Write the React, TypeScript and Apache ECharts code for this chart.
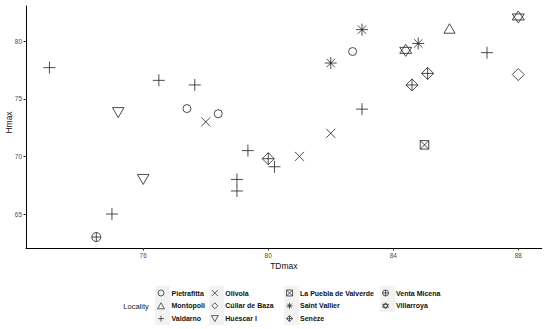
import React, { useEffect, useRef } from "react";
import * as echarts from "echarts";

const localities = [
  "Pietrafitta",
  "Montopoli",
  "Valdarno",
  "Olivola",
  "Cúllar de Baza",
  "Huéscar I",
  "La Puebla de Valverde",
  "Saint Vallier",
  "Senèze",
  "Venta Micena",
  "Villarroya",
];

const pietrafitta = [[77.4, 74.15], [78.4, 73.7], [82.7, 79.1]];
const montopoli = [[85.8, 81.1]];
const valdarno = [
  [73.0, 77.7], [76.5, 76.6], [77.65, 76.2], [75.0, 65.0], [79.0, 68.0],
  [79.0, 67.0], [79.35, 70.5], [80.2, 69.1], [83.0, 74.1], [87.0, 79.0],
];
const olivola = [[78.0, 73.0], [81.0, 70.0], [82.0, 72.0]];
const cullarDeBaza = [[88.0, 77.1]];
const huescarI = [[75.2, 73.8], [76.0, 68.0]];
const laPueblaDeValverde = [[85.0, 71.0]];
const saintVallier = [[83.0, 81.0], [82.0, 78.1], [84.8, 79.8]];
const seneze = [[80.0, 69.8], [85.1, 77.2], [84.6, 76.2]];
const ventaMicena = [[74.5, 63.0]];
const villarroya = [[84.4, 79.2], [88.0, 82.1]];

const xTicks = [76, 80, 84, 88];
const yTicks = [65, 70, 75, 80];

const seriesData = [
  pietrafitta, montopoli, valdarno, olivola, cullarDeBaza, huescarI,
  laPueblaDeValverde, saintVallier, seneze, ventaMicena, villarroya,
];

const symbols: any[] = [
  { symbol: "path://M0 5 A5 5 0 1 1 10 5 A5 5 0 1 1 0 5 Z", size: 8 },
  { symbol: "path://M5 0 L10 8.66 L0 8.66 Z", size: [11, 9.5] },
  { symbol: "path://M5 0 L5 10 M0 5 L10 5", size: 12 },
  { symbol: "path://M0 0 L10 10 M0 10 L10 0", size: 9 },
  { symbol: "path://M5 0 L10 5 L5 10 L0 5 Z", size: 12 },
  { symbol: "path://M0 0 L10 0 L5 8.66 Z", size: [11.5, 10] },
  { symbol: "path://M0 0 L10 0 L10 10 L0 10 Z M0 0 L10 10 M0 10 L10 0", size: 8.5 },
  { symbol: "path://M5 0 L5 10 M0 5 L10 5 M1.5 1.5 L8.5 8.5 M1.5 8.5 L8.5 1.5", size: 12 },
  { symbol: "path://M5 0 L10 5 L5 10 L0 5 Z M5 0 L5 10 M0 5 L10 5", size: 12 },
  { symbol: "path://M0 5 A5 5 0 1 1 10 5 A5 5 0 1 1 0 5 Z M5 0 L5 10 M0 5 L10 5", size: 9 },
  { symbol: "path://M5 0 L10 7.5 L0 7.5 Z M0 2.5 L10 2.5 L5 10 Z", size: 12 },
];

const FONT = "Liberation Sans, Arial, sans-serif";
const INK = "#1e1e1e";

export default function App() {
  const ref = useRef<HTMLDivElement>(null);

  useEffect(() => {
    if (!ref.current) return;
    const chart = echarts.init(ref.current, null, { renderer: "svg" });

    const series = localities.map((name, i) => ({
      name,
      type: "scatter",
      data: seriesData[i],
      symbol: symbols[i].symbol,
      symbolSize: symbols[i].size,
      symbolKeepAspect: false,
      itemStyle: { color: "transparent", borderColor: INK, borderWidth: 0.8, opacity: 1 },
      emphasis: { disabled: true },
    }));

    const keyCenters = [162.7, 216.5, 291.7, 387.7];
    const groups = [
      localities.slice(0, 3),
      localities.slice(3, 6),
      localities.slice(6, 9),
      localities.slice(9, 11),
    ];

    const legends = groups.map((items, i) => ({
      orient: "vertical",
      left: keyCenters[i] - 5.5,
      top: 289.5,
      padding: 0,
      itemWidth: 11,
      itemHeight: 6,
      itemGap: 5.8,
      selectedMode: false,
      data: items,
      itemStyle: { color: "transparent", borderColor: INK, borderWidth: 0.7 },
      textStyle: {
        fontFamily: FONT,
        fontSize: 7,
        fontWeight: "bold",
        color: "#111",
        lineHeight: 7,
      },
    }));

    chart.setOption({
      animation: false,
      grid: {
        left: 26,
        top: 6,
        right: 8.3,
        bottom: 81,
        outerBoundsMode: "none",
        containLabel: false,
      },
      xAxis: {
        type: "value",
        min: 72.25,
        max: 88.75,
        name: "TDmax",
        nameLocation: "middle",
        nameGap: 13,
        nameMoveOverlap: false,
        nameTextStyle: { fontFamily: FONT, fontSize: 8.5, color: "#111" },
        axisLine: { show: true, lineStyle: { color: "#000", width: 1 } },
        axisTick: { show: true, length: 2.5, lineStyle: { color: "#333" }, customValues: xTicks },
        axisLabel: {
          fontFamily: FONT,
          fontSize: 6.5,
          color: "#4d4d4d",
          margin: 4,
          customValues: xTicks,
        },
        splitLine: { show: false },
      },
      yAxis: {
        type: "value",
        min: 62.05,
        max: 83.05,
        name: "Hmax",
        nameLocation: "middle",
        nameRotate: 90,
        nameGap: 12.5,
        nameMoveOverlap: false,
        nameTextStyle: { fontFamily: FONT, fontSize: 8.5, color: "#111", padding: [0, 0, 0, 9] },
        axisLine: { show: true, lineStyle: { color: "#000", width: 1 } },
        axisTick: { show: true, length: 2.5, lineStyle: { color: "#333" }, customValues: yTicks },
        axisLabel: {
          fontFamily: FONT,
          fontSize: 6.5,
          color: "#4d4d4d",
          margin: 4,
          customValues: yTicks,
        },
        splitLine: { show: false },
      },
      legend: legends,
      graphic: {
        z: 0,
        elements: [
          ...keyCenters.map((cx, i) => ({
            type: "rect",
            silent: true,
            shape: { x: cx - 7.5, y: 286, width: 15, height: i === 3 ? 26 : 39 },
            style: { fill: "#f2f2f2" },
          })),
          {
            type: "text",
            left: 123.3,
            top: 302,
            silent: true,
            style: { text: "Locality", fontFamily: FONT, fontSize: 7.5, fill: "#222" },
          },
        ],
      },
      series,
    });

    return () => chart.dispose();
  }, []);

  return (
    <div
      ref={ref}
      style={{ position: "absolute", left: 0, top: 0, width: 550, height: 329, background: "#fff" }}
    />
  );
}
